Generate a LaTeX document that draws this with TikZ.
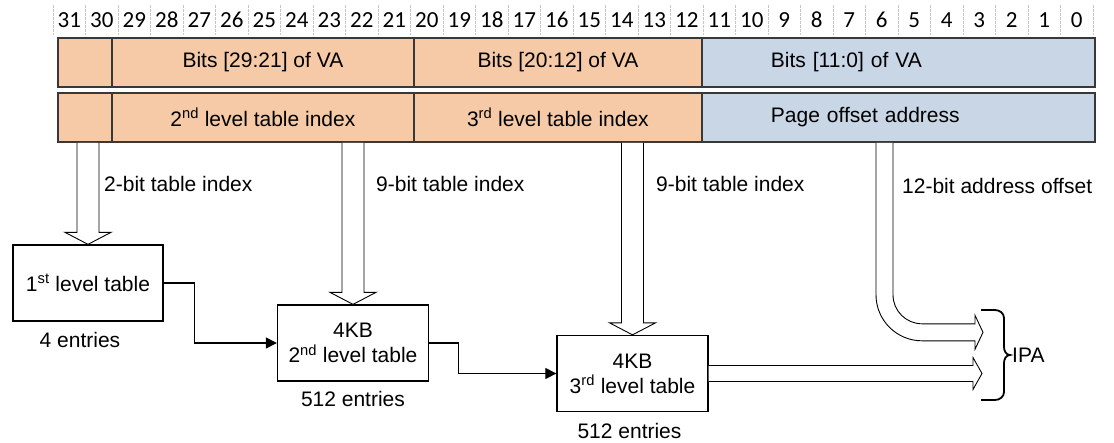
\documentclass[tikz,border=0pt]{standalone}
\usepackage{fontspec}
\setmainfont{Liberation Sans}
\newfontfamily\bitfont{Carlito}
\usetikzlibrary{calc,positioning,arrows.meta}
\definecolor{pagepeach}{RGB}{246,202,166}
\definecolor{pageblue}{RGB}{201,214,230}

% hollow arrow pointing down, from the bottom of a field to a tip point
\newcommand\fatdown[2]{%
  \draw[hollow] let \p1=(#1), \p2=(#2) in
    (\x2-11pt,\y1) -- (\x2-11pt,\y2+12pt) -- (\x2-23pt,\y2+12pt) -- (\x2,\y2)
    -- (\x2+23pt,\y2+12pt) -- (\x2+11pt,\y2+12pt) -- (\x2+11pt,\y1);
}

\begin{document}
\begin{tikzpicture}[x=1pt,y=1pt,
  every node/.style={font=\fontsize{21}{25}\selectfont},
  bitnum/.style={font=\bitfont\fontsize{23}{23}\selectfont,inner sep=0pt},
  tick/.style={draw=gray!45,line width=0.8pt,dash pattern=on 3pt off 1pt},
  field/.style={draw=black!78,line width=1.8pt,minimum height=49pt,inner sep=0pt,anchor=north west},
  hi/.style={field,fill=pagepeach},
  lo/.style={field,fill=pageblue,align=left,inner xsep=69pt,text width=255pt},
  tbl/.style={draw,line width=1.3pt,minimum width=151pt,minimum height=76pt,align=center,inner sep=0pt},
  hollow/.style={draw,fill=white,line width=0.9pt},
  conn/.style={line width=1.2pt,-{Triangle[length=11pt,width=11pt]}},
  note/.style={anchor=west,inner sep=0pt}]
\useasboundingbox (0,0) rectangle (1114,-442);

% bit numbers
\foreach \i in {0,...,32}
  \draw[tick] (53+32.5*\i,-5) -- (53+32.5*\i,-35);
\foreach \i in {0,...,31}{
  \pgfmathtruncatemacro\bit{31-\i}
  \node[bitnum] (b\bit) at (69.25+32.5*\i,-20) {\bit};
}

% virtual address
\node[hi,minimum width=54pt]  (va0) at (57,-37) {};
\node[hi,minimum width=302pt] (va1) at (111,-37) {Bits [29:21] of VA};
\node[hi,minimum width=288pt] (va2) at (413,-37) {Bits [20:12] of VA};
\node[lo] (va3) at (701,-37) {Bits [11:0] of VA};

\node[hi,minimum width=54pt]  (ix0) at (57,-92) {};
\node[hi,minimum width=302pt] (ix1) at (111,-92) {2\textsuperscript{nd} level table index};
\node[hi,minimum width=288pt] (ix2) at (413,-92) {3\textsuperscript{rd} level table index};
\node[lo] (ix3) at (701,-92) {Page offset address};

% tables
\node[tbl,minimum width=150pt] (t1) at (88,-283) {1\textsuperscript{st} level table};
\node[tbl] (t2) at (353,-343) {4KB\\2\textsuperscript{nd} level table};
\node[tbl] (t3) at (632.5,-373.5) {4KB\\3\textsuperscript{rd} level table};

\node (e1) at ($(t1.south)+(-8,-18)$) {4 entries};
\node (e2) at ($(t2.south)+(0,-17)$) {512 entries};
\node (e3) at ($(t3.south)+(-3,-19)$) {512 entries};

\draw[conn] (t1.east) -- ++(31,0) |- (t2.west);
\draw[conn] (t2.east) -- ++(29,0) |- (t3.west);

% table indexes
\fatdown{ix0.south}{t1.north}
\fatdown{ix1.south}{t2.north}
\fatdown{ix2.south}{t3.north}

\node[note] (l1) at (104,-184) {2-bit table index};
\node[note] (l2) at (376,-184) {9-bit table index};
\node[note] (l3) at (656,-184) {9-bit table index};
\node[note] (l4) at (902,-186) {12-bit address offset};

% page offset and output address
\coordinate (offtop) at (ix3.south -| 884.5,0);
\draw[hollow] ($(offtop)+(-8.5,0)$) -- ++(0,-152)
  arc[start angle=180,end angle=270,radius=46] -- ++(53,0) -- ++(0,-8.5)
  -- ++(8,17) -- ++(-8,17) -- ++(0,-8.5) -- ++(-53,0)
  arc[start angle=270,end angle=180,radius=29] -- ++(0,152);

\coordinate (ipa2) at (982,-373.5);
\draw[hollow] let \p1=(t3.east), \p2=(ipa2) in
  (\x1,\y2+8pt) -- (\x2-9pt,\y2+8pt) -- (\x2-9pt,\y2+16pt) -- (\x2,\y2)
  -- (\x2-9pt,\y2-16pt) -- (\x2-9pt,\y2-8pt) -- (\x1,\y2-8pt);

\draw[line width=1.8pt] (981,-310) -- (995,-310) to[out=0,in=90] (1004,-318)
  -- (1004,-347) to[out=-90,in=180] (1010,-355) to[out=180,in=90] (1004,-363)
  -- (1004,-392) to[out=-90,in=0] (995,-400) -- (981,-400);
\node[note] (ipa) at (1012,-355) {IPA};
\end{tikzpicture}
\end{document}
